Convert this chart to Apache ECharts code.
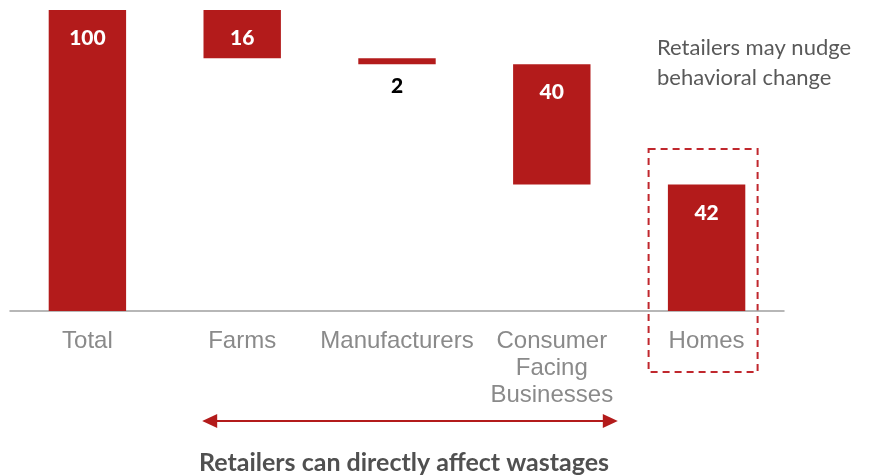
<!DOCTYPE html>
<html>
<head>
<meta charset="utf-8">
<script src="https://cdn.jsdelivr.net/npm/echarts@6/dist/echarts.min.js"></script>
<style>html,body{margin:0;padding:0;background:#fff}#c{width:880px;height:476px}</style>
</head>
<body>
<div id="c"></div>
<script>
const categories = ['Total', 'Farms', 'Manufacturers', 'Consumer\nFacing\nBusinesses', 'Homes'];
const values = [100, 16, 2, 40, 42];
const bases = [0, 84, 82, 42, 0];
const noteTop = 'Retailers may nudge\nbehavioral change';
const noteBottom = 'Retailers can directly affect wastages';

const RED = '#b31b1b';
const chart = echarts.init(document.getElementById('c'));
chart.setOption({
  animation: false,
  grid: { left: 10, right: 96, top: 10, bottom: 165, containLabel: false },
  xAxis: {
    type: 'category', data: categories,
    axisLine: { lineStyle: { color: '#a0a0a0', width: 1.5 } },
    axisTick: { show: false },
    axisLabel: { color: '#8a8a8a', fontFamily: 'Liberation Sans, Arial', fontSize: 24, lineHeight: 27, margin: 17, interval: 0 }
  },
  yAxis: { type: 'value', min: 0, max: 100, show: false, splitLine: { show: false } },
  series: [
    { type: 'bar', stack: 'w', data: bases, itemStyle: { color: 'transparent' }, barWidth: '50%', silent: true },
    { type: 'bar', stack: 'w', barWidth: '50%',
      data: values.map((v, i) => i === 2 ? { value: v, label: { color: '#000' } } : v),
      itemStyle: { color: RED },
      label: {
        show: true, position: 'insideTop', distance: 18,
        color: '#fff', fontFamily: 'Lato', fontWeight: 900, fontSize: 21,
        formatter: p => p.value
      },
      labelLayout: function (params) {
        if (params.dataIndex === 2) {
          return { y: params.rect.y + params.rect.height + 22, align: 'center', verticalAlign: 'middle' };
        }
        return {};
      }
    }
  ]
});

const homesX = chart.convertToPixel({ xAxisIndex: 0 }, categories[4]);
const leftX = chart.convertToPixel({ xAxisIndex: 0 }, categories[1]);
const rightX = chart.convertToPixel({ xAxisIndex: 0 }, categories[3]);
const ay = 421;
const x1 = leftX - 40, x2 = rightX + 66;
chart.setOption({
  graphic: [
    { type: 'rect', shape: { x: homesX - 58, y: 149, width: 109, height: 223 },
      style: { fill: 'none', stroke: '#c0272d', lineWidth: 2, lineDash: [7, 5] } },
    { type: 'text', x: 657, y: 63,
      style: { text: noteTop, fill: '#595959', font: '22px Lato', lineHeight: 30, textVerticalAlign: 'middle' } },
    { type: 'line', shape: { x1: x1 + 10, y1: ay, x2: x2 - 10, y2: ay }, style: { stroke: RED, lineWidth: 2 } },
    { type: 'polygon', shape: { points: [[x1, ay], [x1 + 15, ay - 7], [x1 + 15, ay + 7]] }, style: { fill: RED } },
    { type: 'polygon', shape: { points: [[x2, ay], [x2 - 15, ay - 7], [x2 - 15, ay + 7]] }, style: { fill: RED } },
    { type: 'text', x: 404, y: 463,
      style: { text: noteBottom, fill: '#505050', font: 'bold 25px Lato', textAlign: 'center', textVerticalAlign: 'middle' } }
  ]
});
</script>
</body>
</html>
